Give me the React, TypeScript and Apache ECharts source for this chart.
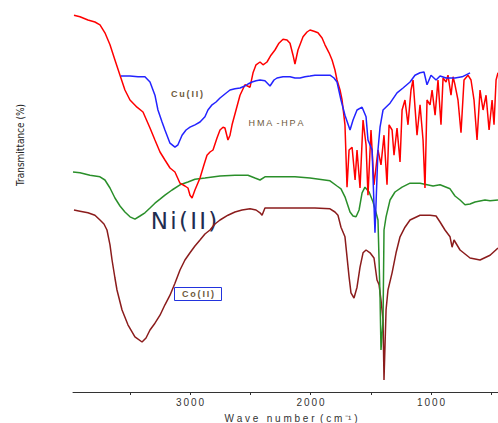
import React, { useEffect, useRef } from "react";
import * as echarts from "echarts";

// Wavenumber (cm-1), transmittance (arbitrary %, stacked spectra)
const hmaHpa: [number, number][] = [
  [3963, 96.2], [3913, 95.8], [3847, 95], [3789, 94.5], [3747, 93.8], [3706, 91.8], [3664, 88.8],
  [3623, 85], [3581, 81.2], [3540, 77.5], [3498, 75], [3440, 73.2], [3390, 72], [3332, 68],
  [3291, 65], [3249, 62], [3208, 60], [3166, 58], [3125, 57], [3083, 54.2], [3042, 53.5],
  [3017, 53], [3000, 51.2], [2983, 50.5], [2959, 52.5], [2917, 55.5], [2884, 58.8], [2859, 61.2],
  [2834, 62], [2809, 62.5], [2776, 65.5], [2751, 67.5], [2726, 68.2], [2710, 68], [2685, 65],
  [2668, 66.2], [2651, 68.8], [2618, 72.5], [2585, 76.2], [2544, 78.8], [2502, 78.2], [2477, 81.8],
  [2452, 83.8], [2419, 84.5], [2394, 83.8], [2361, 84.5], [2328, 86.2], [2295, 87.5], [2262, 89.2],
  [2228, 90.2], [2195, 90], [2170, 89.2], [2145, 86.2], [2129, 84], [2104, 87.5], [2062, 90.8],
  [2029, 92], [2004, 92.5], [1971, 92.2], [1938, 91.8], [1904, 90.5], [1880, 88.8], [1846, 86.8],
  [1821, 85], [1797, 82.5], [1780, 80], [1755, 77.5], [1738, 75], [1714, 68.8], [1697, 53.2],
  [1680, 62.5], [1655, 63.2], [1630, 55], [1614, 62.5], [1589, 53], [1564, 70], [1539, 63.8],
  [1523, 51.2], [1498, 67.5], [1473, 53.8], [1440, 62.5], [1415, 58.8], [1390, 66.2], [1365, 53.8],
  [1348, 68.8], [1323, 67.5], [1307, 61.2], [1282, 68], [1257, 59.5], [1240, 72.5], [1216, 75],
  [1191, 68.8], [1166, 77.5], [1149, 80], [1116, 66.2], [1091, 73.8], [1066, 65], [1050, 53],
  [1033, 75], [1008, 73.8], [991, 77.5], [966, 71.2], [942, 80], [917, 68.8], [900, 80.5],
  [875, 79.5], [859, 81.2], [834, 76.2], [817, 80.8], [801, 78.8], [776, 75], [751, 66.8],
  [726, 80], [693, 81.2], [668, 80], [643, 75], [618, 65], [593, 77.5], [568, 72.5], [543, 76.2],
  [518, 67.5], [493, 75], [477, 68.8], [460, 80], [444, 81.8],
];

const cuII: [number, number][] = [
  [3573, 81], [3498, 81], [3432, 80.8], [3374, 80.8], [3332, 79.5], [3291, 76.2], [3266, 72.5],
  [3232, 69.5], [3208, 67.5], [3166, 64.2], [3125, 63.2], [3100, 63.8], [3066, 66.2], [3033, 67.5],
  [3000, 68.2], [2959, 68.8], [2917, 69.5], [2876, 70.8], [2851, 72.5], [2817, 73.8], [2784, 74.5],
  [2751, 75.5], [2710, 76.5], [2668, 77.5], [2627, 77.8], [2585, 78], [2544, 78.5], [2519, 79],
  [2485, 79.5], [2452, 79.8], [2419, 80], [2378, 79.8], [2336, 78.5], [2303, 80], [2278, 80.5],
  [2228, 80.8], [2170, 80.8], [2129, 80.5], [2087, 80.5], [2046, 80.8], [2004, 81], [1963, 81.2],
  [1921, 81.2], [1880, 81.2], [1838, 81.2], [1805, 80.5], [1780, 79.5], [1747, 75], [1714, 71.2],
  [1672, 67.5], [1647, 70], [1614, 72.5], [1572, 73.2], [1539, 70.8], [1523, 65], [1489, 62.5],
  [1465, 41.8], [1440, 62.5], [1423, 68.2], [1398, 72.5], [1340, 74.2], [1282, 76.8], [1232, 78],
  [1174, 79.5], [1133, 81.2], [1091, 81.8], [1058, 82], [1033, 78.8], [1000, 81.2], [958, 80],
  [925, 81], [875, 80.5], [801, 80.5], [742, 80.8], [676, 81.8],
];

const niII: [number, number][] = [
  [3971, 57], [3913, 56.8], [3830, 56.2], [3747, 55.8], [3706, 55], [3664, 53], [3623, 50.5],
  [3581, 48.5], [3540, 47], [3498, 45.8], [3457, 45.2], [3415, 46], [3374, 46.8], [3332, 48],
  [3291, 49.2], [3249, 50.2], [3208, 51.2], [3149, 52.5], [3083, 53.8], [3017, 54.5], [2959, 55.2],
  [2876, 55.5], [2751, 56], [2627, 56.2], [2519, 56.2], [2461, 55.5], [2419, 55], [2378, 55.8],
  [2253, 55.8], [2129, 55.8], [2004, 55.5], [1838, 54.8], [1780, 53.5], [1747, 52.8], [1714, 50.8],
  [1672, 47], [1647, 46], [1622, 45.8], [1597, 47.5], [1572, 51.8], [1548, 53.2], [1514, 52],
  [1481, 49.5], [1456, 46.8], [1440, 45], [1423, 25.8], [1415, 12.5], [1398, 20], [1390, 42.5],
  [1373, 45.8], [1340, 50], [1299, 52], [1240, 53.2], [1174, 54.2], [1091, 54.2], [983, 53.5],
  [925, 53.8], [842, 52.8], [801, 51], [759, 50], [718, 48.8], [676, 49], [635, 49.5], [552, 50],
  [510, 49.8], [444, 50],
];

const coII: [number, number][] = [
  [3963, 47.5], [3913, 47.2], [3847, 46.8], [3789, 46.2], [3747, 45], [3714, 44], [3689, 42.5],
  [3664, 38.8], [3647, 35], [3623, 30.5], [3606, 27.5], [3564, 22.5], [3515, 18.8], [3457, 15.8],
  [3398, 14.5], [3365, 15.5], [3332, 17.5], [3291, 19.2], [3249, 21.2], [3208, 23.8], [3166, 26.2],
  [3125, 29.2], [3083, 32.5], [3042, 35], [3000, 36.8], [2959, 38.5], [2917, 40], [2876, 41.5],
  [2834, 42.5], [2793, 44], [2751, 45], [2685, 46.2], [2627, 47], [2568, 47.5], [2502, 47.8],
  [2452, 47.5], [2419, 46.8], [2402, 46.2], [2378, 48], [2253, 48], [2087, 48], [1963, 48],
  [1838, 47.8], [1797, 47], [1772, 46.2], [1747, 43.2], [1714, 40.8], [1697, 35.8], [1680, 30.8],
  [1664, 26.8], [1639, 25.5], [1614, 28.2], [1589, 33.2], [1564, 36.8], [1539, 37.5], [1506, 36.8],
  [1473, 35.5], [1448, 30], [1431, 28.8], [1415, 25], [1398, 20], [1390, 5], [1373, 22.5],
  [1357, 27.5], [1323, 31.8], [1290, 36.8], [1257, 40.8], [1216, 43.2], [1174, 45], [1091, 46.2],
  [1008, 46.2], [958, 46], [925, 44.5], [884, 42.5], [842, 40.8], [825, 38.2], [809, 40],
  [759, 37.5], [676, 35.5], [593, 35], [510, 36.2], [444, 38],
];

const tickValues = [3500, 3000, 2500, 2000, 1500, 1000, 500];
const labelValues = [3000, 2000, 1000];

const spaced = (s: string, sep: string) => s.split("").join(sep);

export default function App() {
  const ref = useRef<HTMLDivElement>(null);
  useEffect(() => {
    if (!ref.current) return;
    const chart = echarts.init(ref.current, null, { renderer: "svg" });
    const line = (name: string, data: [number, number][], color: string, z: number) => ({
      name,
      type: "line",
      data,
      symbol: "none",
      z,
      lineStyle: { color, width: 1.5 },
      itemStyle: { color },
    });
    const labelColor = "#6e5a3c";
    chart.setOption({
      animation: false,
      backgroundColor: "#ffffff",
      grid: { left: 73, right: 0, top: 0, bottom: 31, containLabel: false },
      xAxis: {
        type: "value",
        inverse: true,
        min: 444,
        max: 3971,
        axisLine: { show: true, lineStyle: { color: "#333", width: 1 } },
        axisTick: {
          show: true,
          inside: false,
          length: 3,
          customValues: tickValues,
          lineStyle: { color: "#333" },
        },
        axisLabel: {
          show: true,
          customValues: labelValues,
          margin: 5,
          fontSize: 10,
          color: "#333",
          fontFamily: "Arial, 'Liberation Sans', sans-serif",
          formatter: (v: number) => spaced(String(v), "\u2009"),
        },
        splitLine: { show: false },
      },
      yAxis: {
        type: "value",
        min: 2,
        max: 100,
        show: false,
        splitLine: { show: false },
      },
      series: [
        line("Co(II)", coII, "#8b1c1c", 1),
        line("Ni(II)", niII, "#2a8f2a", 2),
        line("HMA-HPA", hmaHpa, "#ff0000", 3),
        line("Cu(II)", cuII, "#2323ff", 4),
      ],
      graphic: [
        {
          type: "text",
          x: 20,
          y: 145,
          rotation: Math.PI / 2,
          style: {
            text: "Transmittance (%)",
            fontSize: 10,
            fontFamily: "'Liberation Sans Narrow', 'DejaVu Sans Condensed', sans-serif",
            fill: "#222",
            align: "center",
            verticalAlign: "middle",
          },
        },
        {
          type: "text",
          x: 291,
          y: 418,
          style: {
            text: "W a v e   n u m b e r  ( c m \u207B\u00B9 )",
            fontSize: 10,
            fontFamily: "Arial, 'Liberation Sans', sans-serif",
            fill: "#333",
            align: "center",
            verticalAlign: "middle",
          },
        },
        {
          type: "text",
          x: 187,
          y: 94,
          style: {
            text: spaced("Cu(II)", "\u2009"),
            fontSize: 9,
            fontWeight: "bold",
            fontFamily: "Arial, 'Liberation Sans', sans-serif",
            fill: labelColor,
            align: "center",
            verticalAlign: "middle",
          },
        },
        {
          type: "text",
          x: 276,
          y: 123,
          style: {
            text: "H\u2009M\u2009A\u2009 -\u2009H\u2009P\u2009A",
            fontSize: 9,
            fontFamily: "Arial, 'Liberation Sans', sans-serif",
            fill: labelColor,
            align: "center",
            verticalAlign: "middle",
          },
        },
        {
          type: "text",
          x: 184,
          y: 221,
          style: {
            text: spaced("Ni(II)", "\u200A"),
            fontSize: 23,
            fontFamily: "'DejaVu Sans', sans-serif",
            fill: "#1f2d50",
            align: "center",
            verticalAlign: "middle",
          },
        },
        {
          type: "rect",
          shape: { x: 174.5, y: 287.5, width: 47, height: 13 },
          style: { fill: "#ffffff", stroke: "#2233dd", lineWidth: 1 },
          z: 10,
        },
        {
          type: "text",
          x: 198,
          y: 294,
          z: 11,
          style: {
            text: spaced("Co(II)", "\u2009"),
            fontSize: 9,
            fontWeight: "bold",
            fontFamily: "Arial, 'Liberation Sans', sans-serif",
            fill: labelColor,
            align: "center",
            verticalAlign: "middle",
          },
        },
      ],
    });
    return () => chart.dispose();
  }, []);
  return (
    <div
      ref={ref}
      style={{ position: "absolute", left: 0, top: 0, width: 498, height: 423 }}
    />
  );
}
